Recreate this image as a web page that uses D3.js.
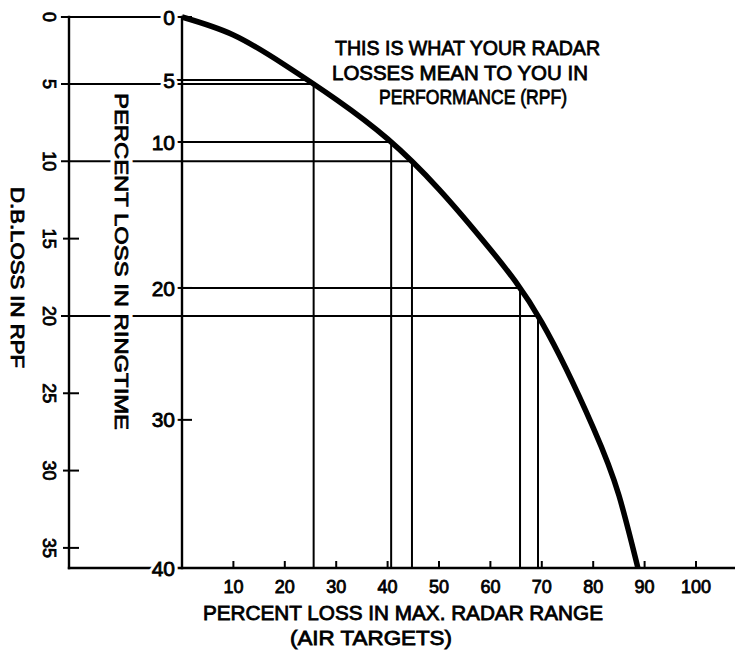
<!DOCTYPE html>
<html><head><meta charset="utf-8">
<script src="https://cdn.jsdelivr.net/npm/d3@7"></script>
<style>body{margin:0;background:#fff}</style>
</head><body>
<svg id="c" width="735" height="650"></svg>
<script>
// ---------------- data ----------------
const rangeLossTicks = [10,20,30,40,50,60,70,80,90,100];
const dbTicks = [0,5,10,15,20,25,30,35];
const dbGuideTicks = [0,5,10,20];
const ringtimeTicks = [0,5,10,20,30,40];
const ringtimeTickDb = [0,4.70,8.75,18.19,26.72,36.3];   // where each ringtime tick sits on the dB scale
const curveRangeLoss = [0,10,20,30,40,50,60,70,80,85,88.7];
const curveDb        = [0,1.34,3.58,6.0,8.55,11.81,15.70,20.42,27.22,31.6,36.3];
// guide lines drawn from a scale value across to the curve
const guideScale = ["ringtime","db","ringtime","db","ringtime","db"];
const guideDb    = [4.70,5,8.75,10,18.19,20];
const guideDrop  = [false,true,true,true,true,true];
const titleLines = ["THIS IS WHAT YOUR RADAR","LOSSES MEAN TO YOU IN","PERFORMANCE (RPF)"];
const xTitleLines = ["PERCENT LOSS IN MAX. RADAR RANGE","(AIR TARGETS)"];
const ringtimeTitle = "PERCENT LOSS IN RINGTIME";
const dbTitle = "D.B.LOSS IN RPF";
const dbMax = 36.3;

// ---------------- layout ----------------
const svg = d3.select("#c");
const FONT = "'Liberation Sans', Arial, sans-serif";
const x = d3.scaleLinear().domain([0,100]).range([182,696]);
// the printed dB scale is slightly compressed between 0 and 5
const y = d3.scaleLinear().domain([0,5,dbMax]).range([17,84,568]);
const dbAxisX = 69;
const x0 = x(0), yB = y(dbMax);

const lines = svg.append("g").attr("stroke","#000").attr("fill","none");
function seg(x1,y1,x2,y2,w){
  lines.append("line").attr("x1",x1).attr("y1",y1).attr("x2",x2).attr("y2",y2)
    .attr("stroke-width",w).attr("stroke-linecap","square");
}

// curve (drawn first so intersections can be measured)
const pts = curveRangeLoss.map((r,i)=>[r,curveDb[i]]);
const curvePath = svg.append("path").datum(pts)
  .attr("d", d3.line().x(d=>x(d[0])).y(d=>y(d[1])).curve(d3.curveNatural))
  .attr("fill","none").attr("stroke","#000").attr("stroke-width",5.5).attr("stroke-linecap","butt");
const pnode = curvePath.node(), plen = pnode.getTotalLength();
const samples = d3.range(0, plen+0.5, 0.5).map(l=>pnode.getPointAtLength(Math.min(l,plen)));
function curveXAt(py){
  for(let i=1;i<samples.length;i++){
    const a=samples[i-1], b=samples[i];
    if(b.y>=py){ const t=(py-a.y)/((b.y-a.y)||1); return a.x+t*(b.x-a.x); }
  }
  return samples[samples.length-1].x;
}

// dB axis
seg(dbAxisX, y(0), dbAxisX, yB, 2.4);
dbGuideTicks.forEach(v=>{
  const xe = v===0 ? x0 : curveXAt(y(v));
  seg(dbAxisX-7, y(v), xe, y(v), v===0?2.2:2);
});
dbTicks.filter(v=>!dbGuideTicks.includes(v)).forEach(v=>seg(dbAxisX-5, y(v), dbAxisX+9, y(v), 2));
seg(dbAxisX, yB, 735, yB, 2.4);

// ringtime axis
seg(x0, y(0), x0, yB, 2.4);
ringtimeTickDb.forEach(d=>seg(x0-5, y(d), x0+9, y(d), 2));
guideScale.forEach((s,i)=>{
  const yy = y(guideDb[i]), xe = curveXAt(yy);
  if(s==="ringtime") seg(x0, yy, xe, yy, 2);
  if(guideDrop[i]) seg(xe, yy, xe, yB, 2);
});

// x axis ticks
rangeLossTicks.forEach(v=>seg(x(v), yB, x(v), yB-6, 2));
curvePath.raise();

// ---------------- text ----------------
const txt = svg.append("g").attr("font-family",FONT).attr("fill","#000");
function label(str, o){
  const make = (halo)=>{
    const t = txt.append("text").text(str)
      .attr("font-size",o.size).attr("text-anchor",o.anchor||"start");
    if(o.transform) t.attr("transform",o.transform); else t.attr("x",o.x).attr("y",o.y);
    if(o.dy) t.attr("dy",o.dy);
    if(o.len) t.attr("textLength",o.len).attr("lengthAdjust","spacingAndGlyphs");
    if(halo) t.attr("fill","#fff").attr("stroke","#fff").attr("stroke-width",o.halo).attr("stroke-linejoin","round");
    else t.attr("stroke","#000").attr("stroke-width",0.8);
  };
  if(o.halo) make(true);
  make(false);
}

dbTicks.forEach(v=>label(String(v),{size:18,anchor:"middle",transform:`translate(49,${y(v)}) rotate(90)`,dy:"0.36em"}));
ringtimeTicks.forEach((v,i)=>label(String(v),{size:21,anchor:"end",x:x0-7,y:y(ringtimeTickDb[i]),dy:"0.36em",halo:7}));
rangeLossTicks.forEach(v=>label(String(v),{size:18,anchor:"middle",x:x(v),y:yB+25}));
label(xTitleLines[0],{size:20,x:203,y:620,len:400});
label(xTitleLines[1],{size:20,x:290,y:645,len:162});
label(ringtimeTitle,{size:19,anchor:"middle",transform:"translate(122,261.5) rotate(90)",dy:"0.36em",len:337,halo:9});
label(dbTitle,{size:18,anchor:"middle",transform:"translate(17,277.5) rotate(90)",dy:"0.36em",len:181});
const tX=[335,332,379], tL=[265,256,188], tY=[55,80,104];
titleLines.forEach((s,i)=>label(s,{size:21,x:tX[i],y:tY[i],len:tL[i]}));
</script>
</body></html>
